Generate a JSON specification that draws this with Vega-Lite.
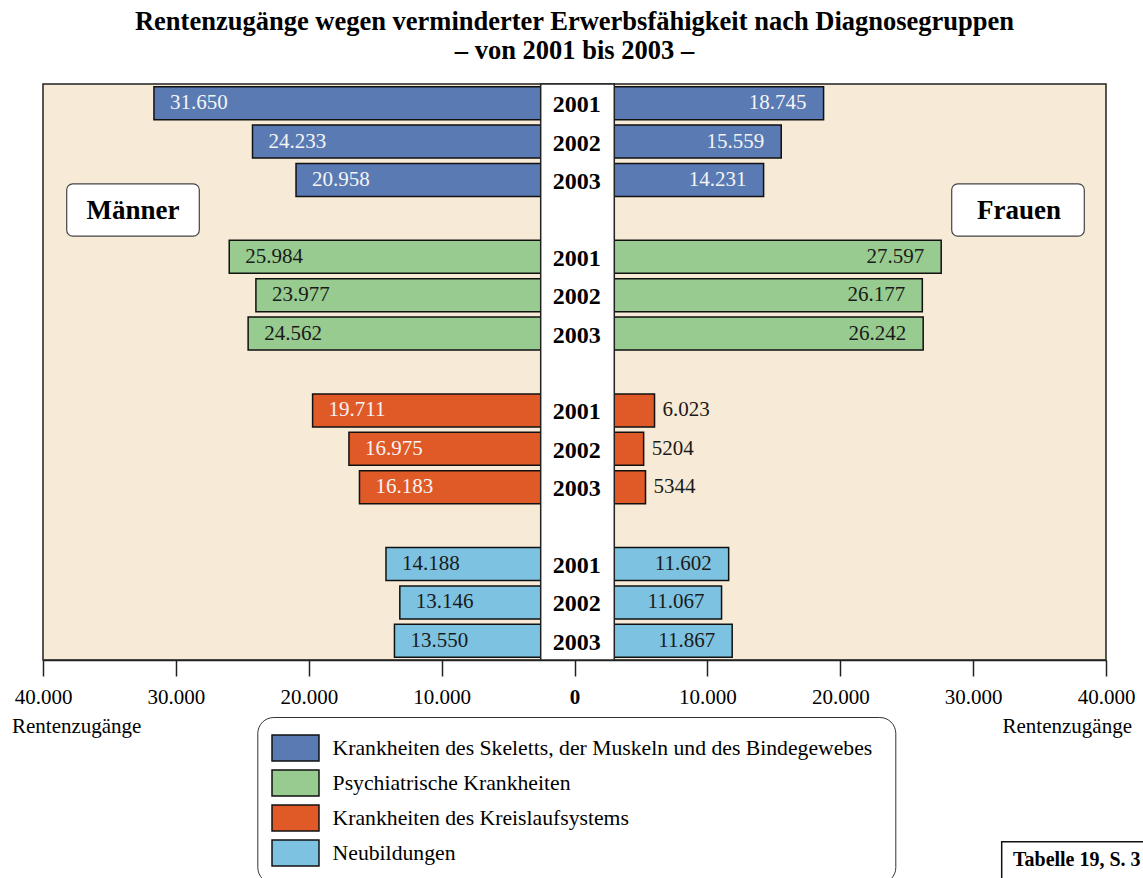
{
  "$schema": "https://vega.github.io/schema/vega-lite/v6.json",
  "width": 1063,
  "height": 576,
  "autosize": {"type": "none"},
  "padding": {"left": 43, "top": 84, "right": 37, "bottom": 218},
  "title": {
    "text": ["Rentenzugänge wegen verminderter Erwerbsfähigkeit nach Diagnosegruppen", "– von 2001 bis 2003 –"],
    "font": "Liberation Serif", "fontSize": 26.5, "fontWeight": "bold", "color": "black",
    "anchor": "middle", "offset": 19, "lineHeight": 29
  },
  "config": {
    "view": {"fill": "#F7EBD7", "stroke": "#222", "strokeWidth": 1.5},
    "font": "Liberation Serif"
  },
  "datasets": {
    "d": [
      {"group": "Krankheiten des Skeletts, der Muskeln und des Bindegewebes", "row": "S 2001", "year": "2001", "sex": "M", "value": -31650, "label": "31.650"},
      {"group": "Krankheiten des Skeletts, der Muskeln und des Bindegewebes", "row": "S 2002", "year": "2002", "sex": "M", "value": -24233, "label": "24.233"},
      {"group": "Krankheiten des Skeletts, der Muskeln und des Bindegewebes", "row": "S 2003", "year": "2003", "sex": "M", "value": -20958, "label": "20.958"},
      {"group": "Krankheiten des Skeletts, der Muskeln und des Bindegewebes", "row": "S 2001", "year": "2001", "sex": "F", "value": 18745, "label": "18.745"},
      {"group": "Krankheiten des Skeletts, der Muskeln und des Bindegewebes", "row": "S 2002", "year": "2002", "sex": "F", "value": 15559, "label": "15.559"},
      {"group": "Krankheiten des Skeletts, der Muskeln und des Bindegewebes", "row": "S 2003", "year": "2003", "sex": "F", "value": 14231, "label": "14.231"},
      {"group": "Psychiatrische Krankheiten", "row": "P 2001", "year": "2001", "sex": "M", "value": -25984, "label": "25.984"},
      {"group": "Psychiatrische Krankheiten", "row": "P 2002", "year": "2002", "sex": "M", "value": -23977, "label": "23.977"},
      {"group": "Psychiatrische Krankheiten", "row": "P 2003", "year": "2003", "sex": "M", "value": -24562, "label": "24.562"},
      {"group": "Psychiatrische Krankheiten", "row": "P 2001", "year": "2001", "sex": "F", "value": 27597, "label": "27.597"},
      {"group": "Psychiatrische Krankheiten", "row": "P 2002", "year": "2002", "sex": "F", "value": 26177, "label": "26.177"},
      {"group": "Psychiatrische Krankheiten", "row": "P 2003", "year": "2003", "sex": "F", "value": 26242, "label": "26.242"},
      {"group": "Krankheiten des Kreislaufsystems", "row": "K 2001", "year": "2001", "sex": "M", "value": -19711, "label": "19.711"},
      {"group": "Krankheiten des Kreislaufsystems", "row": "K 2002", "year": "2002", "sex": "M", "value": -16975, "label": "16.975"},
      {"group": "Krankheiten des Kreislaufsystems", "row": "K 2003", "year": "2003", "sex": "M", "value": -16183, "label": "16.183"},
      {"group": "Krankheiten des Kreislaufsystems", "row": "K 2001", "year": "2001", "sex": "F", "value": 6023, "label": "6.023"},
      {"group": "Krankheiten des Kreislaufsystems", "row": "K 2002", "year": "2002", "sex": "F", "value": 5204, "label": "5204"},
      {"group": "Krankheiten des Kreislaufsystems", "row": "K 2003", "year": "2003", "sex": "F", "value": 5344, "label": "5344"},
      {"group": "Neubildungen", "row": "N 2001", "year": "2001", "sex": "M", "value": -14188, "label": "14.188"},
      {"group": "Neubildungen", "row": "N 2002", "year": "2002", "sex": "M", "value": -13146, "label": "13.146"},
      {"group": "Neubildungen", "row": "N 2003", "year": "2003", "sex": "M", "value": -13550, "label": "13.550"},
      {"group": "Neubildungen", "row": "N 2001", "year": "2001", "sex": "F", "value": 11602, "label": "11.602"},
      {"group": "Neubildungen", "row": "N 2002", "year": "2002", "sex": "F", "value": 11067, "label": "11.067"},
      {"group": "Neubildungen", "row": "N 2003", "year": "2003", "sex": "F", "value": 11867, "label": "11.867"}
    ]
  },
  "data": {"name": "d"},
  "resolve": {"scale": {"y": "independent"}},
  "layer": [
    {
      "mark": {"type": "bar", "stroke": "#111", "strokeWidth": 1.5},
      "encoding": {
        "x": {
          "field": "value", "type": "quantitative",
          "scale": {"domain": [-40000, 40000], "nice": false, "zero": false},
          "axis": {
            "values": [-40000, -30000, -20000, -10000, 0, 10000, 20000, 30000, 40000],
            "labelExpr": "replace(format(abs(datum.value), ',.0f'), ',', '.')",
            "title": null, "grid": false, "tickSize": 16, "tickColor": "#222", "tickWidth": 1.5,
            "domainColor": "#222", "domainWidth": 1.5,
            "labelFontSize": 21, "labelColor": "black", "labelFont": "Liberation Serif", "labelPadding": 10,
            "labelFlush": false, "labelOverlap": false,
            "labelFontWeight": {"condition": {"test": "datum.value === 0", "value": "bold"}, "value": "normal"}
          }
        },
        "x2": {"datum": 0},
        "y": {
          "field": "row", "type": "nominal",
          "scale": {"type": "band", "domain": ["S 2001", "S 2002", "S 2003", "g1", "P 2001", "P 2002", "P 2003", "g2", "K 2001", "K 2002", "K 2003", "g3", "N 2001", "N 2002", "N 2003"], "paddingInner": 0.14, "paddingOuter": 0.07},
          "axis": null
        },
        "color": {
          "field": "group", "type": "nominal",
          "scale": {
            "domain": ["Krankheiten des Skeletts, der Muskeln und des Bindegewebes", "Psychiatrische Krankheiten", "Krankheiten des Kreislaufsystems", "Neubildungen"],
            "range": ["#5A7AB3", "#97CB8F", "#E05A28", "#7DC3E1"]
          },
          "legend": {
            "orient": "none", "legendX": 214.3, "legendY": 633, "direction": "vertical",
            "title": "M",
            "titleOrient": "right", "titleFontSize": 10, "titlePadding": 0, "titleOpacity": 0,
            "symbolType": "M-1.362,-0.754H1.362V0.754H-1.362Z", "symbolSize": 1190, "symbolOffset": 7.2,
            "symbolStrokeColor": "#111", "symbolStrokeWidth": 1.5, "symbolOpacity": 1,
            "labelFont": "Liberation Serif", "labelFontSize": 21.7, "labelColor": "black", "labelOffset": 19.1, "labelLimit": 800,
            "rowPadding": 0, "padding": 13,
            "strokeColor": "#333", "fillColor": "white", "cornerRadius": 16
          }
        }
      }
    },
    {
      "transform": [{"filter": "datum.sex == 'M'"}],
      "mark": {"type": "text", "align": "left", "baseline": "middle", "dx": 16, "fontSize": 21, "font": "Liberation Serif"},
      "encoding": {
        "x": {"field": "value", "type": "quantitative", "scale": {"domain": [-40000, 40000], "nice": false, "zero": false}},
        "y": {"field": "row", "type": "nominal", "scale": {"type": "band", "domain": ["S 2001", "S 2002", "S 2003", "g1", "P 2001", "P 2002", "P 2003", "g2", "K 2001", "K 2002", "K 2003", "g3", "N 2001", "N 2002", "N 2003"], "paddingInner": 0.14, "paddingOuter": 0.07}, "axis": null},
        "text": {"field": "label"},
        "color": {"condition": {"test": "datum.group == 'Krankheiten des Skeletts, der Muskeln und des Bindegewebes' || datum.group == 'Krankheiten des Kreislaufsystems'", "value": "#F4F4F4"}, "value": "#1A1A1A"}
      }
    },
    {
      "transform": [{"filter": "datum.sex == 'F' && datum.group != 'Krankheiten des Kreislaufsystems'"}],
      "mark": {"type": "text", "align": "right", "baseline": "middle", "dx": -17, "fontSize": 21, "font": "Liberation Serif"},
      "encoding": {
        "x": {"field": "value", "type": "quantitative", "scale": {"domain": [-40000, 40000], "nice": false, "zero": false}},
        "y": {"field": "row", "type": "nominal", "scale": {"type": "band", "domain": ["S 2001", "S 2002", "S 2003", "g1", "P 2001", "P 2002", "P 2003", "g2", "K 2001", "K 2002", "K 2003", "g3", "N 2001", "N 2002", "N 2003"], "paddingInner": 0.14, "paddingOuter": 0.07}, "axis": null},
        "text": {"field": "label"},
        "color": {"condition": {"test": "datum.group == 'Krankheiten des Skeletts, der Muskeln und des Bindegewebes'", "value": "#F4F4F4"}, "value": "#1A1A1A"}
      }
    },
    {
      "transform": [{"filter": "datum.sex == 'F' && datum.group == 'Krankheiten des Kreislaufsystems'"}],
      "mark": {"type": "text", "align": "left", "baseline": "middle", "dx": 8, "fontSize": 21, "font": "Liberation Serif", "color": "#1A1A1A"},
      "encoding": {
        "x": {"field": "value", "type": "quantitative", "scale": {"domain": [-40000, 40000], "nice": false, "zero": false}},
        "y": {"field": "row", "type": "nominal", "scale": {"type": "band", "domain": ["S 2001", "S 2002", "S 2003", "g1", "P 2001", "P 2002", "P 2003", "g2", "K 2001", "K 2002", "K 2003", "g3", "N 2001", "N 2002", "N 2003"], "paddingInner": 0.14, "paddingOuter": 0.07}, "axis": null},
        "text": {"field": "label"}
      }
    },
    {
      "data": {"values": [{}]},
      "mark": {"type": "rect", "fill": "white", "stroke": "#222", "strokeWidth": 1.5},
      "encoding": {
        "x": {"datum": -2544, "type": "quantitative", "scale": {"domain": [-40000, 40000], "nice": false, "zero": false}},
        "x2": {"datum": 2995},
        "y": {"datum": 0, "type": "quantitative", "scale": {"domain": [0, 15], "reverse": true, "nice": false, "zero": false}, "axis": null},
        "y2": {"datum": 15}
      }
    },
    {
      "transform": [{"filter": "datum.sex == 'M'"}],
      "mark": {"type": "text", "align": "center", "baseline": "middle", "dy": 2, "fontSize": 24, "fontWeight": "bold", "font": "Liberation Serif", "color": "black"},
      "encoding": {
        "x": {"datum": 170, "type": "quantitative", "scale": {"domain": [-40000, 40000], "nice": false, "zero": false}},
        "y": {"field": "row", "type": "nominal", "scale": {"type": "band", "domain": ["S 2001", "S 2002", "S 2003", "g1", "P 2001", "P 2002", "P 2003", "g2", "K 2001", "K 2002", "K 2003", "g3", "N 2001", "N 2002", "N 2003"], "paddingInner": 0.14, "paddingOuter": 0.07}, "axis": null},
        "text": {"field": "year"}
      }
    },
    {
      "data": {"values": [{}]},
      "mark": {"type": "rect", "fill": "white", "stroke": "#444", "strokeWidth": 1.2, "cornerRadius": 6},
      "encoding": {
        "x": {"datum": -38216, "type": "quantitative", "scale": {"domain": [-40000, 40000], "nice": false, "zero": false}},
        "x2": {"datum": -28237},
        "y": {"datum": 2.6, "type": "quantitative", "scale": {"domain": [0, 15], "reverse": true, "nice": false, "zero": false}, "axis": null},
        "y2": {"datum": 3.96}
      }
    },
    {
      "data": {"values": [{}]},
      "mark": {"type": "rect", "fill": "white", "stroke": "#444", "strokeWidth": 1.2, "cornerRadius": 6},
      "encoding": {
        "x": {"datum": 28388, "type": "quantitative", "scale": {"domain": [-40000, 40000], "nice": false, "zero": false}},
        "x2": {"datum": 38367},
        "y": {"datum": 2.6, "type": "quantitative", "scale": {"domain": [0, 15], "reverse": true, "nice": false, "zero": false}, "axis": null},
        "y2": {"datum": 3.96}
      }
    },
    {
      "data": {"values": [{}]},
      "mark": {"type": "text", "align": "center", "baseline": "middle", "fontSize": 27, "fontWeight": "bold", "font": "Liberation Serif", "color": "black", "text": "Männer"},
      "encoding": {
        "x": {"datum": -33226, "type": "quantitative", "scale": {"domain": [-40000, 40000], "nice": false, "zero": false}},
        "y": {"datum": 3.3, "type": "quantitative", "scale": {"domain": [0, 15], "reverse": true, "nice": false, "zero": false}, "axis": null}
      }
    },
    {
      "data": {"values": [{}]},
      "mark": {"type": "text", "align": "center", "baseline": "middle", "fontSize": 27, "fontWeight": "bold", "font": "Liberation Serif", "color": "black", "text": "Frauen"},
      "encoding": {
        "x": {"datum": 33450, "type": "quantitative", "scale": {"domain": [-40000, 40000], "nice": false, "zero": false}},
        "y": {"datum": 3.3, "type": "quantitative", "scale": {"domain": [0, 15], "reverse": true, "nice": false, "zero": false}, "axis": null}
      }
    },
    {
      "data": {"values": [{}]},
      "mark": {"type": "text", "align": "left", "baseline": "middle", "dx": -31, "fontSize": 21, "font": "Liberation Serif", "color": "black", "text": "Rentenzugänge"},
      "encoding": {
        "x": {"datum": -40000, "type": "quantitative", "scale": {"domain": [-40000, 40000], "nice": false, "zero": false}},
        "y": {"datum": 16.75, "type": "quantitative", "scale": {"domain": [0, 15], "reverse": true, "nice": false, "zero": false}, "axis": null}
      }
    },
    {
      "data": {"values": [{}]},
      "mark": {"type": "text", "align": "right", "baseline": "middle", "dx": 26, "fontSize": 21, "font": "Liberation Serif", "color": "black", "text": "Rentenzugänge"},
      "encoding": {
        "x": {"datum": 40000, "type": "quantitative", "scale": {"domain": [-40000, 40000], "nice": false, "zero": false}},
        "y": {"datum": 16.75, "type": "quantitative", "scale": {"domain": [0, 15], "reverse": true, "nice": false, "zero": false}, "axis": null}
      }
    },
    {
      "data": {"values": [{}]},
      "mark": {"type": "rect", "fill": "white", "stroke": "#111", "strokeWidth": 1.5},
      "encoding": {
        "x": {"datum": 32150, "type": "quantitative", "scale": {"domain": [-40000, 40000], "nice": false, "zero": false}},
        "x2": {"datum": 50000},
        "y": {"datum": 19.73, "type": "quantitative", "scale": {"domain": [0, 15], "reverse": true, "nice": false, "zero": false}, "axis": null},
        "y2": {"datum": 21}
      }
    },
    {
      "data": {"values": [{}]},
      "mark": {"type": "text", "align": "left", "baseline": "middle", "fontSize": 20, "fontWeight": "bold", "font": "Liberation Serif", "color": "black", "text": "Tabelle 19, S. 3"},
      "encoding": {
        "x": {"datum": 33001, "type": "quantitative", "scale": {"domain": [-40000, 40000], "nice": false, "zero": false}},
        "y": {"datum": 20.2, "type": "quantitative", "scale": {"domain": [0, 15], "reverse": true, "nice": false, "zero": false}, "axis": null}
      }
    }
  ]
}
